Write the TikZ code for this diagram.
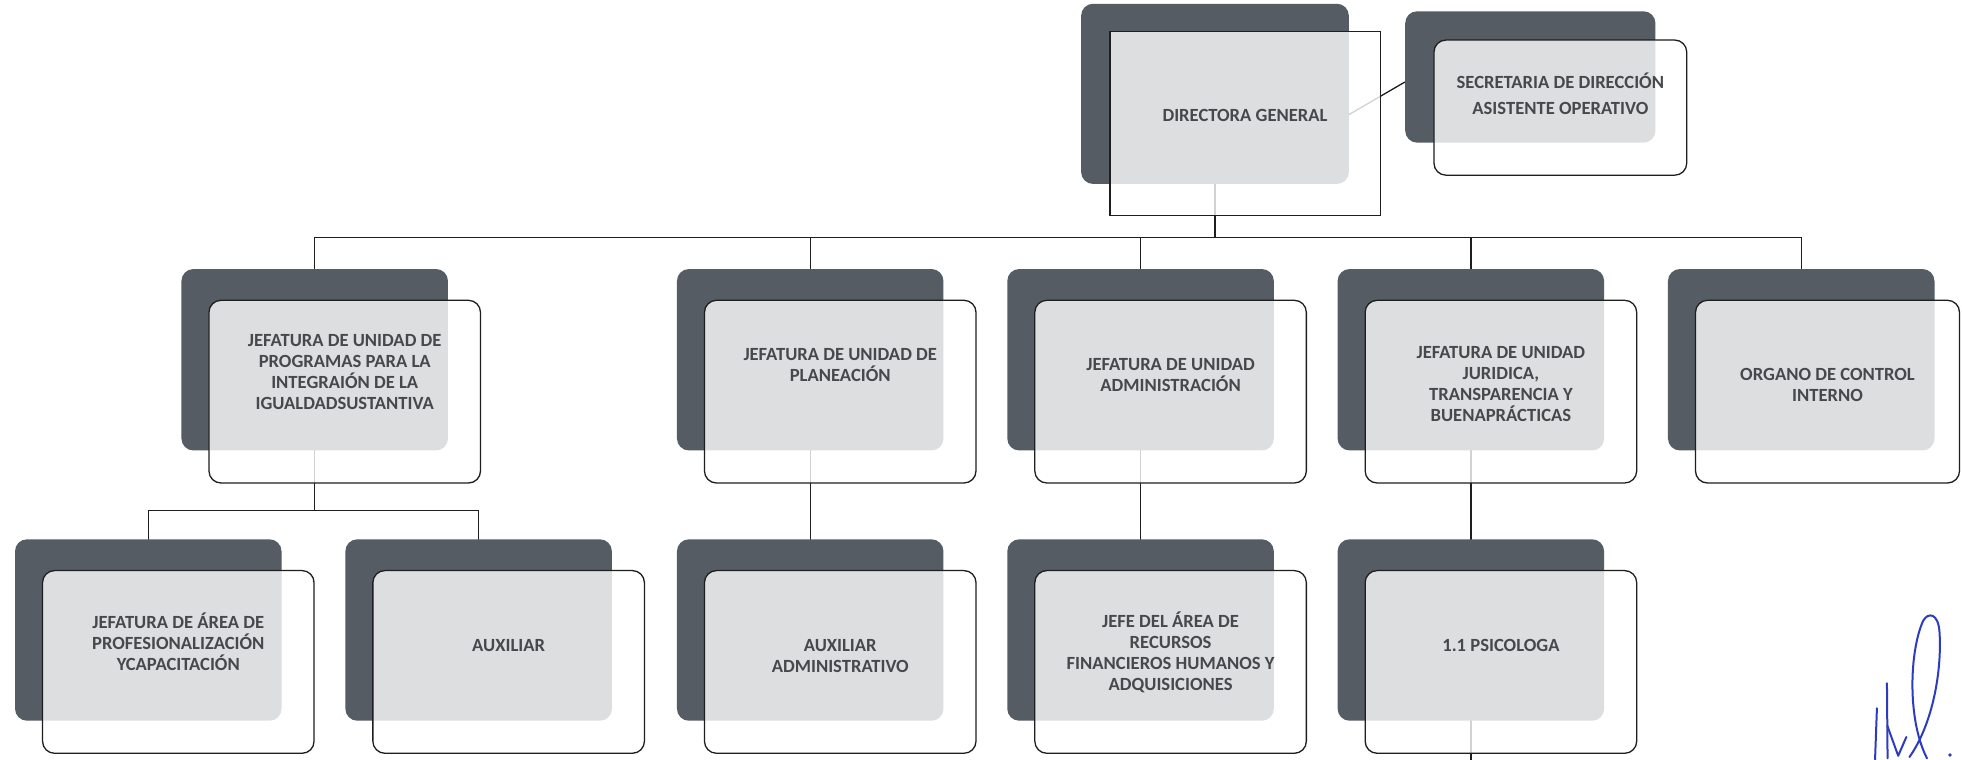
\documentclass[tikz,border=0pt]{standalone}
\usepackage{fontspec}
\setmainfont{Carlito}
\usetikzlibrary{fit,calc}
\definecolor{darkc}{RGB}{86,92,99}
\definecolor{txtc}{RGB}{70,72,76}
\definecolor{linec}{RGB}{30,30,30}
\definecolor{sigc}{RGB}{45,60,190}
\pgfdeclarelayer{paper}
\pgfdeclarelayer{background}
\pgfsetlayers{paper,background,main}
\tikzset{
  darkbox/.style={fill=darkc, draw=none, rounded corners=12pt, inner sep=0pt},
  frontbox/.style={fill=white, fill opacity=0.8, draw=linec, line width=1.3pt, rounded corners=12pt, inner sep=0pt},
  squarebox/.style={fill=white, fill opacity=0.8, draw=linec, line width=1.3pt, inner sep=0pt},
  lbl/.style={align=center, text=txtc, inner sep=0pt, font=\bfseries\fontsize{18.6}{21}\selectfont},
  conn/.style={draw=linec, line width=1.3pt},
  sig/.style={draw=sigc, line width=2pt, line cap=round, line join=round}
}
\newcommand\OrgUnit[6]{%
  \node[darkbox, fit={(#2,#3)(#2+213,#3+145)}] (#1-d) {};
  \node[frontbox, fit={(#2+22,#3+25)(#2+#5,#3+171)}] (#1-f) {};
  \node[lbl] (#1-t) at (#2+11+#5/2,#4) {#6};
}
\begin{document}
\begin{tikzpicture}[x=1.2513pt, y=-1.2513pt]
\begin{pgfonlayer}{paper}
\fill[white] (0,0) rectangle (1568,607);
\end{pgfonlayer}
\useasboundingbox (0,0) rectangle (1568,607);
% top level
\node[darkbox, fit={(864,3)(1078,147)}] (dg-d) {};
\node[squarebox, fit={(887,25)(1103,172)}] (dg-f) {};
\node[lbl] (dg-t) at (995,92) {DIRECTORA GENERAL};
\node[darkbox, fit={(1123,9)(1323,114)}] (sec-d) {};
\node[frontbox, fit={(1146,32)(1348,140)}] (sec-f) {};
\node[lbl] (sec-t) at (1247,75) {SECRETARIA DE DIRECCIÓN\\[5pt]ASISTENTE OPERATIVO};
% level 2
\OrgUnit{u1}{145}{215}{297.5}{239}{JEFATURA DE UNIDAD DE\\PROGRAMAS PARA LA\\INTEGRAIÓN DE LA\\IGUALDADSUSTANTIVA}
\OrgUnit{u2}{541}{215}{291.5}{239}{JEFATURA DE UNIDAD DE\\PLANEACIÓN}
\OrgUnit{u3}{805}{215}{299.5}{239}{JEFATURA DE UNIDAD\\ADMINISTRACIÓN}
\OrgUnit{u4}{1069}{215}{307}{239}{JEFATURA DE UNIDAD\\JURIDICA,\\TRANSPARENCIA Y\\BUENAPRÁCTICAS}
\OrgUnit{u5}{1333}{215}{307.5}{233}{ORGANO DE CONTROL\\INTERNO}
% level 3
\OrgUnit{la}{12}{431}{513}{239}{JEFATURA DE ÁREA DE\\PROFESIONALIZACIÓN\\YCAPACITACIÓN}
\OrgUnit{lb}{276}{431}{516}{239}{AUXILIAR}
\OrgUnit{lc}{541}{431}{524}{239}{AUXILIAR\\ADMINISTRATIVO}
\OrgUnit{ld}{805}{431}{521}{239}{JEFE DEL ÁREA DE\\RECURSOS\\FINANCIEROS HUMANOS Y\\ADQUISICIONES}
\OrgUnit{le}{1069}{431}{516}{239}{1.1 PSICOLOGA}
% connectors
\coordinate (bus) at (0,190);
\coordinate (bus2) at (0,408);
\coordinate (bottom) at (0,607);
\begin{pgfonlayer}{background}
\draw[conn] (dg-d.center) -- (dg-d.center |- bus);
\foreach \u in {u1,u2,u3,u4,u5}{
  \draw[conn] (dg-d.center |- bus) -| (\u-d.center);
}
\draw[conn] ($(dg-d.east)+(-30,34)$) -- ($(sec-d.west)+(0,4)$);
\draw[conn] (u1-d.center) -- (u1-d.center |- bus2) -| (la-d.center);
\draw[conn] (u1-d.center |- bus2) -| (lb-d.center);
\draw[conn] (u2-d.center) -- (lc-d.center);
\draw[conn] (u3-d.center) -- (ld-d.center);
\draw[conn] (u4-d.center) -- (le-d.center);
\draw[conn] (le-d.center) -- (le-d.center |- bottom);
\end{pgfonlayer}
% signature
\draw[sig] (1526,605) .. controls (1545,578) and (1552,535) .. (1550,505) .. controls (1549,490) and (1541,489) .. (1537,496) .. controls (1526,520) and (1524,575) .. (1540,606);
\draw[sig] (1500,566) -- (1498.5,607);
\draw[sig] (1508,546) -- (1508.5,606);
\draw[sig] (1508.3,580) -- (1517,604) -- (1523.5,589);
\fill[sigc] (1558.4,603.4) circle (1.5);
\end{tikzpicture}
\end{document}
